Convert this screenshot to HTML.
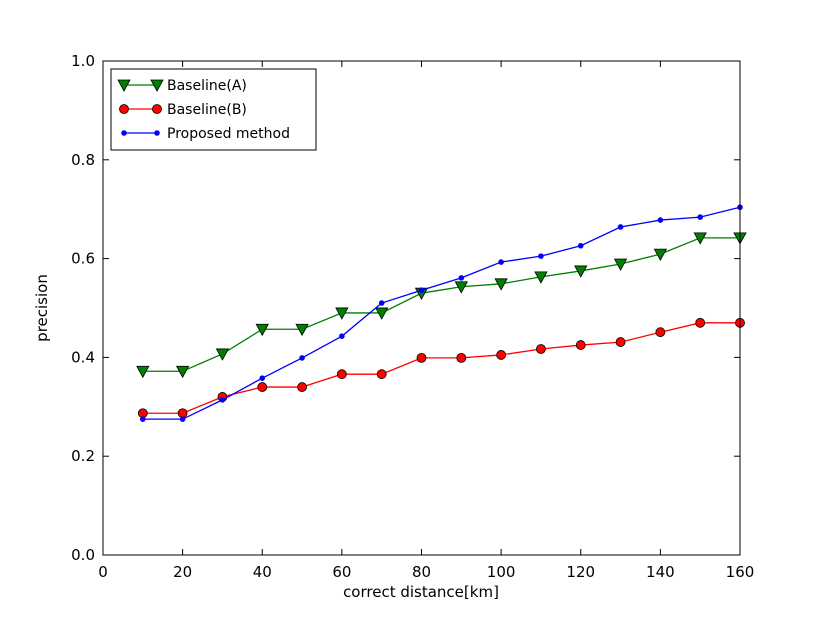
<!DOCTYPE html>
<html><head><meta charset="utf-8"><style>
body{margin:0;background:#fff}
svg text{font-family:"DejaVu Sans","Liberation Sans",sans-serif;fill:#000}
</style></head><body>
<svg id="chart" width="822" height="617" xmlns="http://www.w3.org/2000/svg">
<rect width="822" height="617" fill="#fff"/>
<g id="marks"></g>
<rect x="103" y="61" width="637" height="494" fill="none" stroke="#000" stroke-width="1"/>
<g id="axes"></g>
<text x="421" y="597" font-size="15" text-anchor="middle">correct distance[km]</text>
<text transform="translate(47,308) rotate(-90)" font-size="15" text-anchor="middle">precision</text>
<g id="legend"></g>
</svg>
<script>
const distances=[10,20,30,40,50,60,70,80,90,100,110,120,130,140,150,160];
const baselineA=[0.372,0.372,0.407,0.457,0.457,0.490,0.490,0.530,0.543,0.549,0.563,0.575,0.589,0.609,0.642,0.642];
const baselineB=[0.287,0.287,0.320,0.340,0.340,0.366,0.366,0.399,0.399,0.405,0.417,0.425,0.431,0.451,0.470,0.470];
const proposed=[0.275,0.275,0.314,0.358,0.399,0.443,0.510,0.536,0.561,0.593,0.605,0.626,0.664,0.678,0.684,0.704];
const xTicks=[0,20,40,60,80,100,120,140,160];
const yTicks=[0.0,0.2,0.4,0.6,0.8,1.0];
const NS="http://www.w3.org/2000/svg";
const L=103,R=740,T=61,B=555;
const xs=v=>L+(v-0)/(160-0)*(R-L);
const ys=v=>B-(v-0)/(1-0)*(B-T);
function mk(tag,attrs,parent){const e=document.createElementNS(NS,tag);for(const k in attrs)e.setAttribute(k,attrs[k]);parent.appendChild(e);return e;}
const axes=document.getElementById('axes');
xTicks.forEach(t=>{
  const x=xs(t);
  mk('line',{x1:x,x2:x,y1:B,y2:B-6,stroke:'#000'},axes);
  mk('line',{x1:x,x2:x,y1:T,y2:T+6,stroke:'#000'},axes);
  const tx=mk('text',{x:x,y:B+22,'font-size':15,'text-anchor':'middle'},axes);
  tx.textContent=t;
  
  
});
yTicks.forEach(t=>{
  const y=ys(t);
  mk('line',{x1:L,x2:L+6,y1:y,y2:y,stroke:'#000'},axes);
  mk('line',{x1:R,x2:R-6,y1:y,y2:y,stroke:'#000'},axes);
  const tx=mk('text',{x:L-8,y:y+5,'font-size':15,'text-anchor':'end'},axes);
  tx.textContent=t.toFixed(1);
  
  
});
const marks=document.getElementById('marks');
function tri(x,y,g){return mk('polygon',{points:`${x-6},${y-5} ${x+6},${y-5} ${x},${y+6}`,fill:'#007f00',stroke:'#000','stroke-width':0.8},g);}
function series(vals,color,kind,name){
  const g=mk('g',{},marks);
  
  
  mk('polyline',{points:distances.map((d,i)=>xs(d)+','+ys(vals[i])).join(' '),fill:'none',stroke:color,'stroke-width':1.3},g);
  distances.forEach((d,i)=>{
    const x=xs(d),y=ys(vals[i]);let m;
    if(kind==='tri')m=tri(x,y,g);
    else if(kind==='circ')m=mk('circle',{cx:x,cy:y,r:4.5,fill:'#f00',stroke:'#000','stroke-width':0.8},g);
    else m=mk('circle',{cx:x,cy:y,r:2.3,fill:'#00f',stroke:'#00f'},g);
    
    
  });
}
series(baselineA,'#007f00','tri','series-baseline-a');
series(baselineB,'#f00','circ','series-baseline-b');
series(proposed,'#00f','dot','series-proposed');
const lg=document.getElementById('legend');
mk('rect',{x:111,y:69,width:205,height:81,fill:'#fff',stroke:'#000'},lg);
const entries=[['Baseline(A)','#007f00','tri'],['Baseline(B)','#f00','circ'],['Proposed method','#00f','dot']];
entries.forEach((e,i)=>{
  const y=85+i*24;
  const g=mk('g',{},lg);
  
  
  mk('line',{x1:124,x2:157,y1:y,y2:y,stroke:e[1],'stroke-width':1.3},g);
  [124,157].forEach(x=>{
    if(e[2]==='tri')tri(x,y,g);
    else if(e[2]==='circ')mk('circle',{cx:x,cy:y,r:4.5,fill:'#f00',stroke:'#000','stroke-width':0.8},g);
    else mk('circle',{cx:x,cy:y,r:2.3,fill:'#00f',stroke:'#00f'},g);
  });
  const t=mk('text',{x:167,y:y+5,'font-size':14},g);t.textContent=e[0];
});
</script>
</body></html>
